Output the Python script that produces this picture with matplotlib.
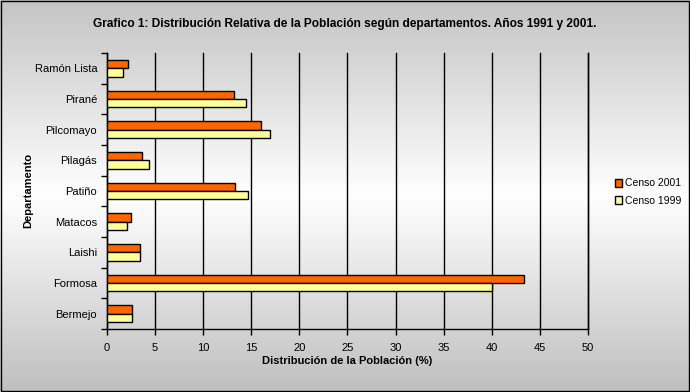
import numpy as np
import matplotlib.pyplot as plt
from matplotlib.patches import Rectangle

# Data, listed bottom to top
departamentos = ['Bermejo', 'Formosa', 'Laishi', 'Matacos', 'Patiño',
                 'Pilagás', 'Pilcomayo', 'Pirané', 'Ramón Lista']
censo_2001 = [2.6, 43.4, 3.4, 2.5, 13.3, 3.6, 16.0, 13.2, 2.2]
censo_1999 = [2.6, 40.0, 3.4, 2.1, 14.7, 4.4, 16.9, 14.5, 1.7]
x_ticks = [0, 5, 10, 15, 20, 25, 30, 35, 40, 45, 50]

plt.rcParams['font.family'] = ['Liberation Sans', 'DejaVu Sans']

fig = plt.figure(figsize=(6.9, 3.92), dpi=100)

# gray -> white -> gray background gradient
bg = fig.add_axes([0, 0, 1, 1], zorder=-10)
t = np.linspace(0, 1, 256)
shade = np.where(t < 0.5, 0.77 + 0.23 * (t / 0.5), 1.0 - 0.25 * ((t - 0.5) / 0.5))
rgb = np.repeat(np.repeat(shade[:, None, None], 2, axis=1), 3, axis=2)
bg.imshow(rgb, aspect='auto', extent=[0, 1, 0, 1], interpolation='bilinear')
bg.set_xlim(0, 1)
bg.set_ylim(0, 1)
bg.axis('off')
fig.add_artist(Rectangle((0.0008, 0.0015), 0.998, 0.997, transform=fig.transFigure,
                         fill=False, edgecolor='black', linewidth=1))

ax = fig.add_axes([0.155, 0.161, 0.697, 0.704])
ax.patch.set_alpha(0)

y = np.arange(len(departamentos))
h = 0.27
ax.barh(y + h / 2, censo_2001, height=h, color='#FF6600', edgecolor='black',
        linewidth=1, label='Censo 2001', zorder=3)
ax.barh(y - h / 2, censo_1999, height=h, color='#FFFF99', edgecolor='black',
        linewidth=1, label='Censo 1999', zorder=3)

ax.set_xlim(0, 50)
ax.set_ylim(-0.5, len(departamentos) - 0.5)
ax.set_xticks(x_ticks)
ax.set_yticks(y)
ax.set_yticklabels(departamentos)
ax.set_yticks(np.arange(len(departamentos) + 1) - 0.5, minor=True)
ax.tick_params(axis='y', which='major', length=0, pad=7, labelsize=8)
ax.tick_params(axis='y', which='minor', length=4, width=1, direction='out')
ax.tick_params(axis='x', length=4, width=1, direction='out', labelsize=8, pad=6)
ax.grid(True, axis='x', color='black', linewidth=1, zorder=0)
for gl in ax.get_xgridlines():
    gl.set_clip_on(False)

ax.spines['top'].set_visible(False)
ax.spines['right'].set_linewidth(1)
ax.spines['left'].set_linewidth(1)
ax.spines['bottom'].set_linewidth(1)

ax.set_xlabel('Distribución de la Población (%)', fontsize=8, fontweight='bold', labelpad=2)
ax.set_ylabel('Departamento', fontsize=8, fontweight='bold', labelpad=1)

fig.text(0.5, 0.94, 'Grafico 1: Distribución Relativa de la Población según departamentos. Años 1991 y 2001.',
         ha='center', va='center', fontsize=8.6, fontweight='bold')

handles, labels = ax.get_legend_handles_labels()
fig.legend(handles, labels, loc='center left', bbox_to_anchor=(0.877, 0.51),
           frameon=False, fontsize=7.5, handlelength=0.75, handleheight=0.75,
           handletextpad=0.25, labelspacing=0.7)

fig.savefig('out.png', dpi=100)
